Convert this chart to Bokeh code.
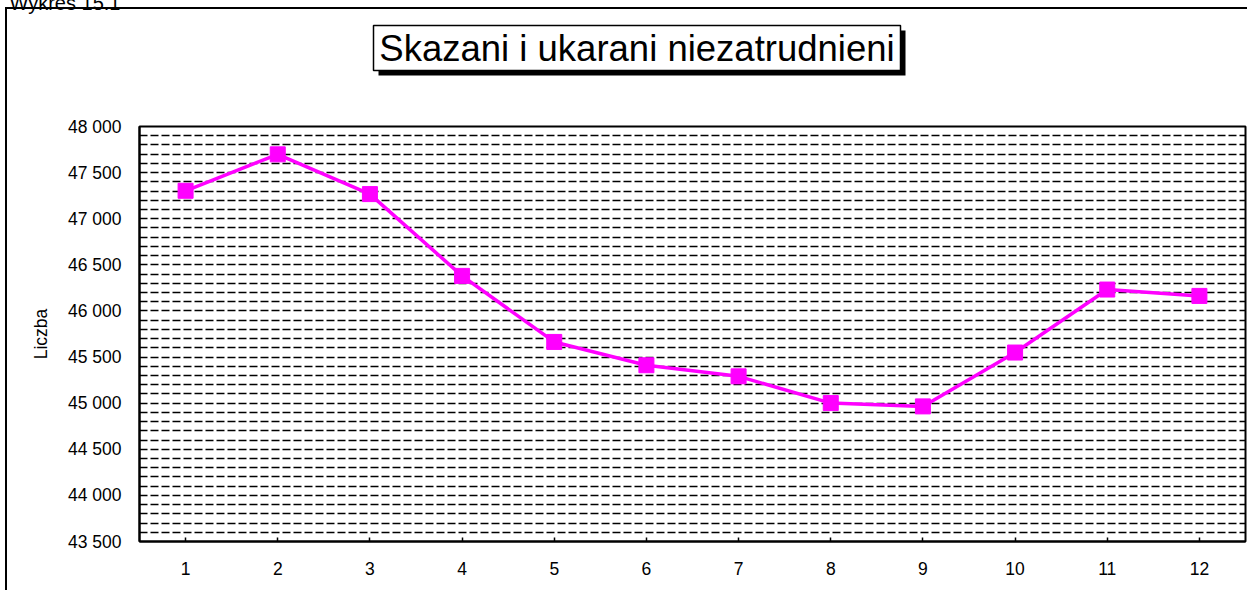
from bokeh.plotting import figure
from bokeh.layouts import column
from bokeh.models import FactorRange, Range1d, FixedTicker, ColumnDataSource, Label
from bokeh.core.properties import value
from bokeh.embed import file_html
from bokeh.resources import INLINE

# ---- data ----
months = ["1", "2", "3", "4", "5", "6", "7", "8", "9", "10", "11", "12"]
convicted = [47303, 47698, 47267, 46380, 45664, 45411, 45291, 45001, 44965, 45549, 46232, 46163]
y_ticks = [43500, 44000, 44500, 45000, 45500, 46000, 46500, 47000, 47500, 48000]
y_tick_labels = ["43 500", "44 000", "44 500", "45 000", "45 500", "46 000", "46 500", "47 000", "47 500", "48 000"]
grid_ticks = [43600, 43700, 43800, 43900, 44000, 44100, 44200, 44300, 44400, 44500,
              44600, 44700, 44800, 44900, 45000, 45100, 45200, 45300, 45400, 45500,
              45600, 45700, 45800, 45900, 46000, 46100, 46200, 46300, 46400, 46500,
              46600, 46700, 46800, 46900, 47000, 47100, 47200, 47300, 47400, 47500,
              47600, 47700, 47800, 47900]
title_text = "Skazani i ukarani niezatrudnieni"
caption_text = "Wykres 15.1"
y_label = "Liczba"

Y0, Y1 = 43500, 48000

# ---- layout (page pixels) ----
W, H = 1247, 590
HEAD_H = 100
FL, FT, FR, FB = 139, 126, 1245, 541
FONT = "Liberation Sans"

# ---------------- header: caption + boxed title with drop shadow ----------------
# the header's frame is aligned with the chart frame, so its data units equal page pixels
head = figure(width=W, height=HEAD_H, x_range=Range1d(FL, FR), y_range=Range1d(HEAD_H, 0),
              output_backend="svg", toolbar_location=None,
              min_border_left=FL, min_border_right=W - FR, min_border_top=0, min_border_bottom=0)
head.styles = {
    "background": "linear-gradient(#000, #000) 5px 7px / 2px 100% no-repeat, "
                  "linear-gradient(#000, #000) 5px 7px / 100% 2px no-repeat, #fff"
}
head.axis.visible = False
head.grid.visible = False
head.title.visible = False
head.outline_line_color = None
head.background_fill_color = None
head.border_fill_color = None

head.quad(left=[378], right=[905], top=[30], bottom=[75], fill_color="black", line_color=None)
head.quad(left=[373], right=[900], top=[25], bottom=[70], fill_color="white",
          line_color="black", line_width=1.5)
head.text(x=[636.5], y=[48], text=[title_text], text_font=value(FONT), text_font_size=value("36.5px"),
          text_color="black", text_align="center", text_baseline="middle")
# caption sits left of the frame (in the side panel, so it is not clipped); cut off at the top as in the original
head.add_layout(Label(x=9, y=2, text=caption_text, text_font=FONT, text_font_size="20px",
                      text_color="black", text_align="left", text_baseline="alphabetic"), "left")

# ---------------- main chart ----------------
src = ColumnDataSource(data=dict(month=months, value=convicted))

PH = H - HEAD_H
p = figure(width=W, height=PH, x_range=FactorRange(*months), y_range=Range1d(Y0, Y1),
           output_backend="svg", toolbar_location=None,
           min_border_left=FL, min_border_right=W - FR, min_border_top=FT - HEAD_H,
           min_border_bottom=H - FB)
p.styles = {"background": "linear-gradient(#000, #000) 5px 0px / 2px 100% no-repeat, #fff"}
p.title.visible = False
p.background_fill_color = "white"
p.border_fill_color = None
p.outline_line_color = "black"
p.outline_line_width = 2

# grid
p.xgrid.visible = False
p.ygrid.ticker = FixedTicker(ticks=grid_ticks)
p.ygrid.grid_line_color = "black"
p.ygrid.grid_line_dash = "8 3"
p.ygrid.grid_line_width = 1.5

# axes
for ax in (p.xaxis[0], p.yaxis[0]):
    ax.axis_line_color = "black"
    ax.axis_line_width = 2
    ax.major_label_text_font = FONT
    ax.major_label_text_font_size = "17.5px"
    ax.major_label_text_color = "black"
    ax.minor_tick_line_color = None

p.yaxis.ticker = FixedTicker(ticks=y_ticks)
p.yaxis.major_label_overrides = dict(zip(y_ticks, y_tick_labels))
p.yaxis.major_tick_in = 0
p.yaxis.major_tick_out = 0
p.yaxis.major_label_standoff = 18
p.yaxis.axis_label = y_label
p.yaxis.axis_label_text_font = FONT
p.yaxis.axis_label_text_font_size = "17.5px"
p.yaxis.axis_label_text_font_style = "normal"
p.yaxis.axis_label_text_color = "black"
p.yaxis.axis_label_standoff = 14

p.xaxis.major_tick_in = 4
p.xaxis.major_tick_out = 0
p.xaxis.major_tick_line_color = "black"
p.xaxis.major_tick_line_width = 1.5
p.xaxis.major_label_standoff = 20

# series
p.line(x="month", y="value", source=src, line_color="#FF00FF", line_width=3.5)
p.scatter(x="month", y="value", source=src, marker="square", size=15,
          fill_color="#FF00FF", line_color="#FF00FF")

layout = column(head, p, spacing=0)
open("out.html", "w").write(file_html(layout, INLINE))
